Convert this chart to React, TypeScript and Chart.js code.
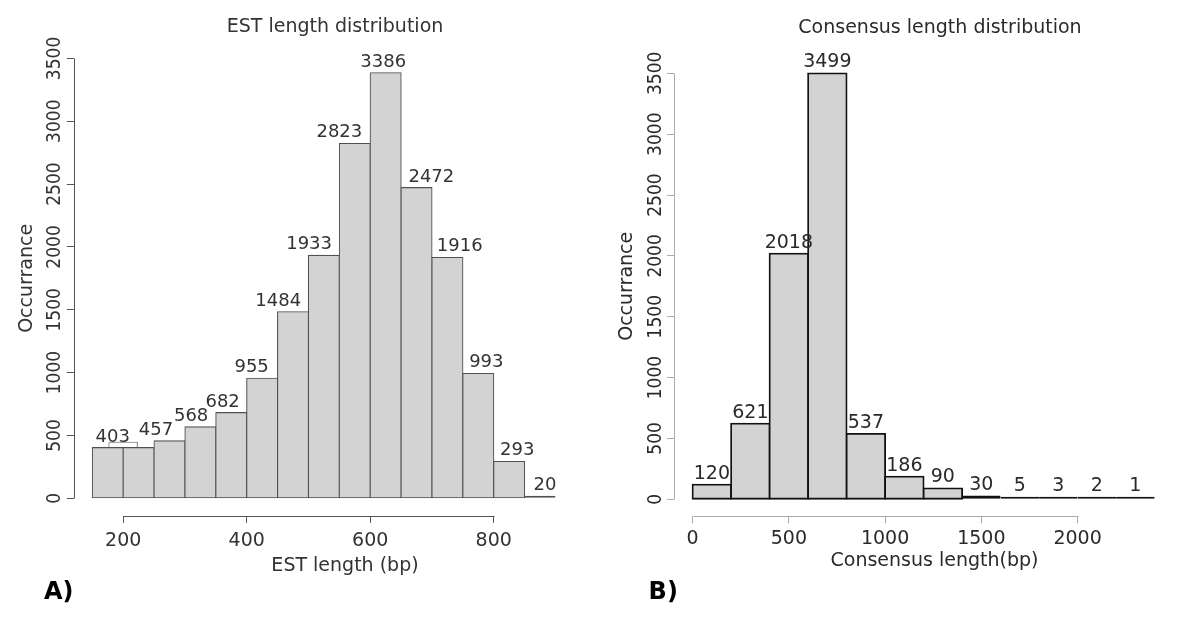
import React, { useEffect, useRef } from "react";
import { Chart, registerables } from "chart.js";

Chart.register(...registerables);

const FONT = "'DejaVu Sans', 'Noto Sans', sans-serif";
const NARROW = "'Liberation Sans Narrow', 'DejaVu Sans Condensed', 'DejaVu Sans', sans-serif";

// ---------- Panel A: EST length distribution ----------
const estBreaks = [150, 200, 250, 300, 350, 400, 450, 500, 550, 600, 650, 700, 750, 800, 850, 900];
const estCounts = [403, 403, 457, 568, 682, 955, 1484, 1933, 2823, 3386, 2472, 1916, 993, 293, 20];
const estLabels = ["403", "", "457", "568", "682", "955", "1484", "1933", "2823", "3386", "2472", "1916", "993", "293", "20"];
const estLabelAt = [183, null, 253, 310, 361, 408, 451, 501, 550, 621, 699, 745, 788, 838, 883];
const estOverlayX = [177, 177, 223, 223];
const estOverlayY = [403, 445, 445, 403];
const estXTicks = [200, 400, 600, 800];

// ---------- Panel B: Consensus length distribution ----------
const consBreaks = [0, 200, 400, 600, 800, 1000, 1200, 1400, 1600, 1800, 2000, 2200, 2400];
const consCounts = [120, 621, 2018, 3499, 537, 186, 90, 30, 5, 3, 2, 1];
const consLabels = ["120", "621", "2018", "3499", "537", "186", "90", "30", "5", "3", "2", "1"];
const consXTicks = [0, 500, 1000, 1500, 2000];

// shared y ticks
const countTicks = [0, 500, 1000, 1500, 2000, 2500, 3000, 3500];

const W = 600;
const H = 640;

type TextItem = { text: string; x: number; y: number; font: string; color: string; align: CanvasTextAlign };

function makeDecor(axisColor: string, texts: TextItem[]) {
  return {
    id: "decor",
    afterDraw(chart: any) {
      const ctx = chart.ctx as CanvasRenderingContext2D;
      const xs = chart.scales.x;
      const ys = chart.scales.y;
      const area = chart.chartArea;
      ctx.save();
      ctx.strokeStyle = axisColor;
      ctx.lineWidth = 1;
      const xt = xs.ticks;
      const yt = ys.ticks;
      const yb = Math.round(area.bottom) + 0.5;
      ctx.beginPath();
      ctx.moveTo(Math.round(xs.getPixelForValue(xt[0].value)) + 0.5, yb);
      ctx.lineTo(Math.round(xs.getPixelForValue(xt[xt.length - 1].value)) + 0.5, yb);
      ctx.stroke();
      const xl = Math.round(area.left) + 0.5;
      ctx.beginPath();
      ctx.moveTo(xl, Math.round(ys.getPixelForValue(yt[0].value)) + 0.5);
      ctx.lineTo(xl, Math.round(ys.getPixelForValue(yt[yt.length - 1].value)) + 0.5);
      ctx.stroke();
      for (const t of texts) {
        ctx.font = t.font;
        ctx.fillStyle = t.color;
        ctx.textAlign = t.align;
        ctx.textBaseline = "middle";
        ctx.fillText(t.text, t.x, t.y);
      }
      ctx.restore();
    },
  };
}

function makeLabels(labels: string[], anchors: (number | null)[] | null, font: string, color: string, gap: number) {
  return {
    id: "histLabels",
    afterDatasetsDraw(chart: any) {
      const ctx = chart.ctx as CanvasRenderingContext2D;
      const meta = chart.getDatasetMeta(0);
      const xs = chart.scales.x;
      const ys = chart.scales.y;
      ctx.save();
      ctx.font = font;
      ctx.fillStyle = color;
      ctx.textAlign = "center";
      ctx.textBaseline = "alphabetic";
      meta.data.forEach((el: any, i: number) => {
        const t = labels[i];
        if (!t) return;
        const at = anchors ? anchors[i] : null;
        const x = at == null ? el.x : xs.getPixelForValue(at);
        const top = Math.min(el.y, el.base);
        ctx.fillText(t, x, Math.min(top, ys.getPixelForValue(0)) - gap);
      });
      ctx.restore();
    },
  };
}

type PanelCfg = {
  breaks: number[];
  counts: number[];
  xTicks: number[];
  area: { left: number; right: number; top: number; bottom: number };
  barBorder: string;
  barBorderWidth: number;
  minBar: number;
  axisColor: string;
  textColor: string;
  xTickPad: number;
  yTickPad: number;
  extra: any[];
  plugins: any[];
};

function buildConfig(p: PanelCfg): any {
  const lo = p.breaks[0];
  const hi = p.breaks[p.breaks.length - 1];
  const ext = 0.04 * (hi - lo);
  const yHi = countTicks[countTicks.length - 1];
  const yExt = 0.04 * yHi;
  const points = p.counts.map((c, i) => ({ x: (p.breaks[i] + p.breaks[i + 1]) / 2, y: c }));
  const bw = p.barBorderWidth;
  return {
    type: "bar",
    data: {
      datasets: [
        {
          type: "bar",
          data: points,
          backgroundColor: "#d3d3d3",
          borderColor: p.barBorder,
          borderWidth: bw,
          borderSkipped: false,
          barPercentage: 1,
          categoryPercentage: 1,
          inflateAmount: (ctx: any) => (ctx.raw && ctx.raw.y < 40 ? 0 : bw / 2),
          minBarLength: p.minBar,
        },
        ...p.extra,
      ],
    },
    options: {
      animation: false,
      responsive: false,
      devicePixelRatio: 1,
      layout: { padding: { top: p.area.top, right: W - p.area.right, left: 0, bottom: 0 } },
      plugins: { legend: { display: false }, tooltip: { enabled: false } },
      scales: {
        x: {
          type: "linear",
          min: lo - ext,
          max: hi + ext,
          offset: false,
          border: { display: false },
          grid: { offset: false, drawOnChartArea: false, drawTicks: true, tickLength: 7, color: p.axisColor },
          afterBuildTicks: (s: any) => {
            s.ticks = p.xTicks.map((v) => ({ value: v }));
          },
          afterFit: (s: any) => {
            s.height = H - p.area.bottom;
          },
          ticks: {
            autoSkip: false,
            minRotation: 0,
            maxRotation: 0,
            padding: p.xTickPad,
            font: { family: FONT, size: 19 },
            color: p.textColor,
            callback: (v: any) => String(v),
          },
        },
        y: {
          type: "linear",
          min: -yExt,
          max: yHi + yExt,
          border: { display: false },
          grid: { drawOnChartArea: false, drawTicks: true, tickLength: 7, color: p.axisColor },
          afterBuildTicks: (s: any) => {
            s.ticks = countTicks.map((v) => ({ value: v }));
          },
          afterFit: (s: any) => {
            s.width = p.area.left;
          },
          ticks: {
            autoSkip: false,
            minRotation: 90,
            maxRotation: 90,
            crossAlign: "center",
            padding: p.yTickPad,
            font: { family: NARROW, size: 19 },
            color: p.textColor,
            callback: (v: any) => String(v),
          },
          title: {
            display: true,
            text: "Occurrance",
            font: { family: FONT, size: 19 },
            color: p.textColor,
            padding: { top: 15.6, bottom: 0 },
          },
        },
      },
    },
    plugins: p.plugins,
  };
}

function Panel({ cfg }: { cfg: () => any }) {
  const ref = useRef<HTMLCanvasElement | null>(null);
  useEffect(() => {
    if (!ref.current) return;
    const chart = new Chart(ref.current, cfg());
    return () => chart.destroy();
  }, []);
  return <canvas ref={ref} width={W} height={H} style={{ display: "block", width: W, height: H }} />;
}

const leftCfg = () =>
  buildConfig({
    breaks: estBreaks,
    counts: estCounts,
    xTicks: estXTicks,
    area: { left: 73.8, right: 574, top: 40.8, bottom: 515.9 },
    barBorder: "#505050",
    barBorderWidth: 1.1,
    minBar: 2,
    axisColor: "#555555",
    textColor: "#333333",
    xTickPad: 7,
    yTickPad: -10,
    extra: [
      {
        type: "line",
        data: estOverlayX.map((x, i) => ({ x, y: estOverlayY[i] })),
        borderColor: "#999999",
        borderWidth: 1,
        pointRadius: 0,
        fill: false,
        tension: 0,
      },
    ],
    plugins: [
      makeLabels(estLabels, estLabelAt, `18px ${FONT}`, "#333333", 6),
      makeDecor("#555555", [
        { text: "EST length distribution", x: 335, y: 27, font: `19px ${FONT}`, color: "#333333", align: "center" },
        { text: "EST length (bp)", x: 345, y: 566, font: `19px ${FONT}`, color: "#333333", align: "center" },
        { text: "A)", x: 44, y: 593, font: `bold 24px ${FONT}`, color: "#000000", align: "left" },
      ]),
    ],
  });

const rightCfg = () =>
  buildConfig({
    breaks: consBreaks,
    counts: consCounts,
    xTicks: consXTicks,
    area: { left: 74.1, right: 573.1, top: 56.3, bottom: 516.3 },
    barBorder: "#111111",
    barBorderWidth: 1.8,
    minBar: 2.5,
    axisColor: "#aaaaaa",
    textColor: "#2a2a2a",
    xTickPad: 4,
    yTickPad: -10.7,
    extra: [],
    plugins: [
      makeLabels(consLabels, null, `19px ${FONT}`, "#2a2a2a", 6),
      makeDecor("#aaaaaa", [
        { text: "Consensus length distribution", x: 340, y: 28.5, font: `19px ${FONT}`, color: "#2a2a2a", align: "center" },
        { text: "Consensus length(bp)", x: 334.5, y: 561, font: `19px ${FONT}`, color: "#2a2a2a", align: "center" },
        { text: "B)", x: 48.6, y: 593, font: `bold 24px ${FONT}`, color: "#000000", align: "left" },
      ]),
    ],
  });

export default function App() {
  return (
    <div style={{ position: "absolute", left: 0, top: 0, width: 1200, height: 640, display: "flex", background: "#ffffff" }}>
      <Panel cfg={leftCfg} />
      <Panel cfg={rightCfg} />
    </div>
  );
}
